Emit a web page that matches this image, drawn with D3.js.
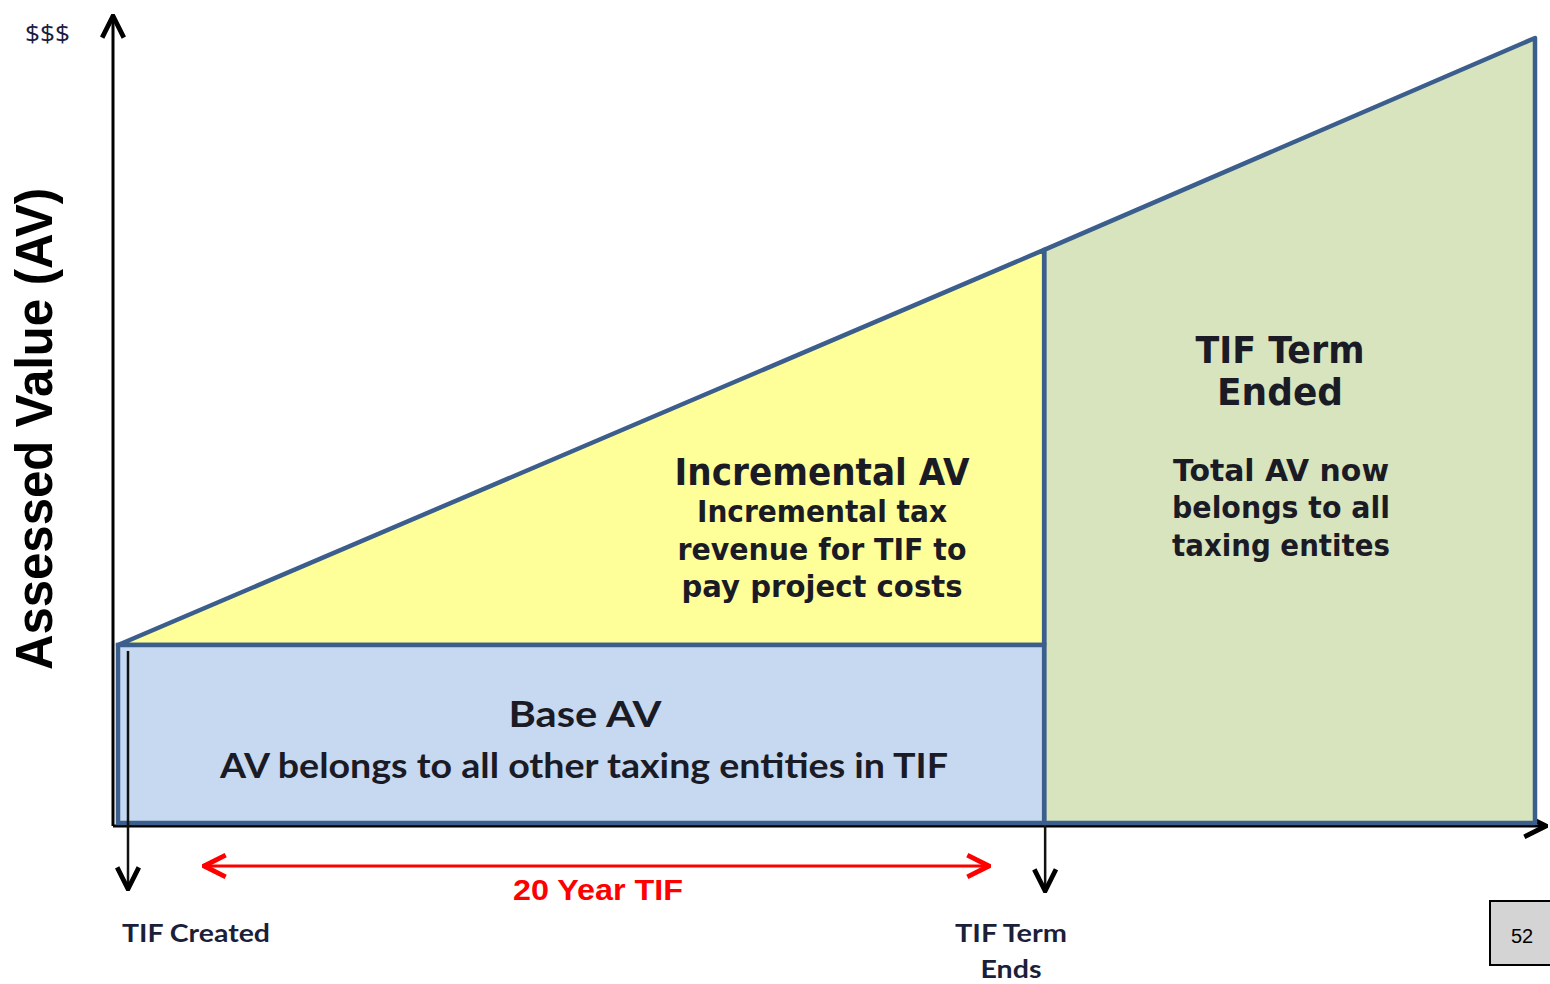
<!DOCTYPE html>
<html>
<head>
<meta charset="utf-8">
<script src="https://cdn.jsdelivr.net/npm/d3@7"></script>
<style>
  body { margin: 0; background: #fff; }
  svg { display: block; }
</style>
</head>
<body>
<div id="chart"></div>
<script>
// years since the TIF was created, and assessed value (base AV = 100)
const years = [0, 20, 30.6];
const totalAV = [100, 322, 441];
const baseAV = 100;
const termYear = 20;

const width = 1550, height = 984;

const x = d3.scaleLinear().domain([0, 30.6]).range([118, 1535]);
const y = d3.scaleLinear().domain([0, 441]).range([823, 38]);

const svg = d3.select("#chart").append("svg")
  .attr("width", width)
  .attr("height", height);

const defs = svg.append("defs");
function marker(id, color) {
  defs.append("marker")
    .attr("id", id)
    .attr("viewBox", "0 0 12 12")
    .attr("refX", 11)
    .attr("refY", 6)
    .attr("markerWidth", 26)
    .attr("markerHeight", 26)
    .attr("markerUnits", "userSpaceOnUse")
    .attr("orient", "auto-start-reverse")
    .append("path")
    .attr("d", "M1,1 L11,6 L1,11")
    .attr("fill", "none")
    .attr("stroke", color)
    .attr("stroke-width", 2.2);
}
marker("arrowBlack", "#000");
marker("arrowRed", "#ff0000");

const stroke = "#3b5e8c";

// axes (drawn first so the shapes sit on top)
svg.append("line")
  .attr("x1", 113).attr("y1", 826).attr("x2", 113).attr("y2", 16)
  .attr("stroke", "#000").attr("stroke-width", 3)
  .attr("marker-end", "url(#arrowBlack)");
svg.append("line")
  .attr("x1", 113).attr("y1", 826).attr("x2", 1546).attr("y2", 826)
  .attr("stroke", "#000").attr("stroke-width", 3)
  .attr("marker-end", "url(#arrowBlack)");

// green: after term ends
const lineFn = d3.line().x(d => x(d[0])).y(d => y(d[1]));
svg.append("path")
  .attr("d", lineFn([[years[1], totalAV[1]], [years[2], totalAV[2]], [years[2], 0], [years[1], 0]]) + "Z")
  .attr("fill", "#d7e4bd")
  .attr("stroke", stroke)
  .attr("stroke-width", 4.5)
  .attr("stroke-linejoin", "round");

// yellow: incremental AV
svg.append("path")
  .attr("d", lineFn([[years[0], totalAV[0]], [years[1], totalAV[1]], [years[1], baseAV]]) + "Z")
  .attr("fill", "#ffff99")
  .attr("stroke", stroke)
  .attr("stroke-width", 4.5)
  .attr("stroke-linejoin", "round");

// blue: base AV
svg.append("rect")
  .attr("x", x(0))
  .attr("y", y(baseAV))
  .attr("width", x(termYear) - x(0))
  .attr("height", y(0) - y(baseAV))
  .attr("fill", "#c6d9f0")
  .attr("stroke", stroke)
  .attr("stroke-width", 4.5);

// down arrows for TIF created / term ends
svg.append("line")
  .attr("x1", x(0) + 10).attr("y1", y(baseAV) + 6).attr("x2", x(0) + 10).attr("y2", 889)
  .attr("stroke", "#111").attr("stroke-width", 2.5)
  .attr("marker-end", "url(#arrowBlack)");
svg.append("line")
  .attr("x1", x(termYear) + 1).attr("y1", 826).attr("x2", x(termYear) + 1).attr("y2", 891)
  .attr("stroke", "#111").attr("stroke-width", 2.5)
  .attr("marker-end", "url(#arrowBlack)");

// red double arrow for the 20 year term
svg.append("line")
  .attr("x1", 204).attr("y1", 866).attr("x2", 989).attr("y2", 866)
  .attr("stroke", "#ff0000").attr("stroke-width", 3)
  .attr("marker-start", "url(#arrowRed)")
  .attr("marker-end", "url(#arrowRed)");

// text helper
function label(t, cx, by, size, len, opts = {}) {
  return svg.append("text")
    .attr("x", cx)
    .attr("y", by)
    .attr("text-anchor", opts.anchor || "middle")
    .attr("font-family", opts.font || "DejaVu Sans")
    .attr("font-weight", opts.weight || "bold")
    .attr("font-size", size)
    .attr("fill", opts.fill || "#1b1b26")
    .attr("textLength", len)
    .attr("lengthAdjust", "spacingAndGlyphs")
    .text(t);
}

label("$$$", 25, 42, 24, 45, { anchor: "start", font: "Open Sans", weight: "normal", fill: "#1a2040" });

svg.append("text")
  .attr("transform", "translate(52,429) rotate(-90)")
  .attr("text-anchor", "middle")
  .attr("font-family", "Liberation Sans")
  .attr("font-weight", "bold")
  .attr("font-size", 52)
  .attr("fill", "#000")
  .attr("textLength", 482)
  .attr("lengthAdjust", "spacingAndGlyphs")
  .text("Assessed Value (AV)");

label("Incremental AV", 822, 485, 38, 295);
label("Incremental tax", 822, 522, 31, 250);
label("revenue for TIF to", 822, 560, 31, 289);
label("pay project costs", 822, 597, 31, 281);

label("TIF Term", 1280, 363, 38, 169);
label("Ended", 1280, 405, 38, 126);
label("Total AV now", 1281, 481, 31, 216);
label("belongs to all", 1281, 518, 31, 218);
label("taxing entites", 1281, 556, 31, 218);

label("Base AV", 585, 727, 36, 153, { font: "Lato" });
label("AV belongs to all other taxing entities in TIF", 584, 778, 35, 728, { font: "Lato" });

label("20 Year TIF", 598, 900, 29, 170, { font: "Liberation Sans", fill: "#ff0000" });

label("TIF Created", 122, 942, 25, 148, { anchor: "start", font: "Lato", fill: "#1b1f3a" });
label("TIF Term", 1011, 942, 25, 112, { font: "Lato", fill: "#1b1f3a" });
label("Ends", 1011, 978, 24, 61, { font: "Lato", fill: "#1b1f3a" });

// page number box
svg.append("rect")
  .attr("x", 1490).attr("y", 901).attr("width", 64).attr("height", 64)
  .attr("fill", "#d4d4d4").attr("stroke", "#000").attr("stroke-width", 2);
svg.append("text")
  .attr("x", 1522).attr("y", 943)
  .attr("text-anchor", "middle")
  .attr("font-family", "Liberation Sans")
  .attr("font-size", 20)
  .attr("fill", "#000")
  .text("52");
</script>
</body>
</html>
